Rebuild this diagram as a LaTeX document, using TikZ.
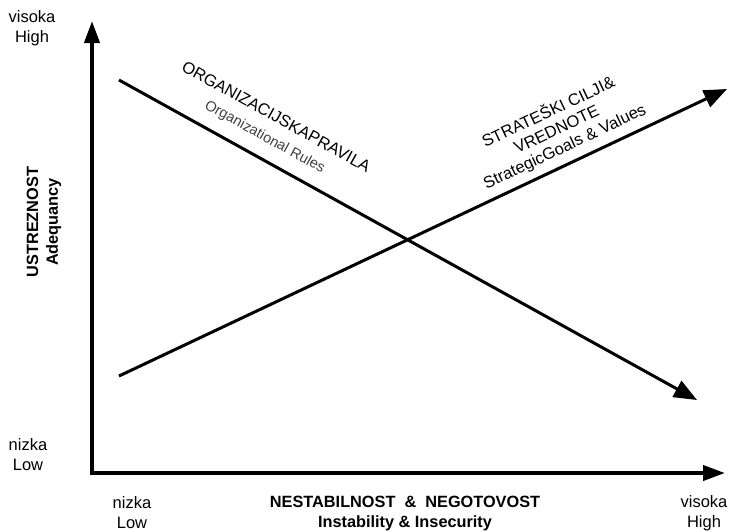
\documentclass[tikz,border=0pt]{standalone}
\usepackage{fontspec}
\setmainfont{Liberation Sans}
\usetikzlibrary{arrows.meta}
\begin{document}
\begin{tikzpicture}[x=1pt,y=-1pt,
    axis/.style={line width=4pt,{Triangle[length=22pt,width=15pt]}-{Triangle[length=22pt,width=15pt]}},
    trend/.style={line width=3pt,-{Triangle[length=23pt,width=18pt]}},
    lbl/.style={font=\fontsize{16.5}{20}\selectfont,align=center,inner sep=0pt},
    ttl/.style={lbl,font=\fontsize{16.3}{20}\selectfont\bfseries}]
    \useasboundingbox (0,0) rectangle (730,531);
    % axes
    \coordinate (origin) at (92,473);
    \coordinate (ytip) at (92,21);
    \coordinate (xtip) at (725,473);
    \draw[axis] (ytip) -- (origin) -- (xtip);
    \node[lbl] (yhigh) at (32,28) {visoka\\High};
    \node[lbl] (ylow) at (28,455) {nizka\\Low};
    \node[lbl] (xlow) at (132,513) {nizka\\Low};
    \node[lbl] (xhigh) at (704,513) {visoka\\High};
    \node[ttl] (xtitle) at (405,513)
      {NESTABILNOST\ \ \&\ \ NEGOTOVOST\\Instability \& Insecurity};
    \node[ttl,rotate=90] (ytitle) at (44,222) {USTREZNOST\\Adequancy};
    % trends
    \coordinate (rulesA) at (119,80);
    \coordinate (rulesB) at (697,400);
    \coordinate (goalsA) at (119,376);
    \coordinate (goalsB) at (727,89);
    \draw[trend] (rulesA) -- node[pos=0.235,sloped,above=12pt,lbl,
        font=\fontsize{16.5}{22}\selectfont] (rules)
      {ORGANIZACIJSKAPRAVILA\\{\fontsize{14.5}{22}\selectfont\color{black!75}Organizational Rules}} (rulesB);
    \draw[trend] (goalsA) -- node[pos=0.745,sloped,above=7pt,lbl,
        font=\fontsize{16.5}{19}\selectfont] (goals)
      {STRATEŠKI CILJI\&\\VREDNOTE\\StrategicGoals \& Values} (goalsB);
  \end{tikzpicture}
\end{document}
